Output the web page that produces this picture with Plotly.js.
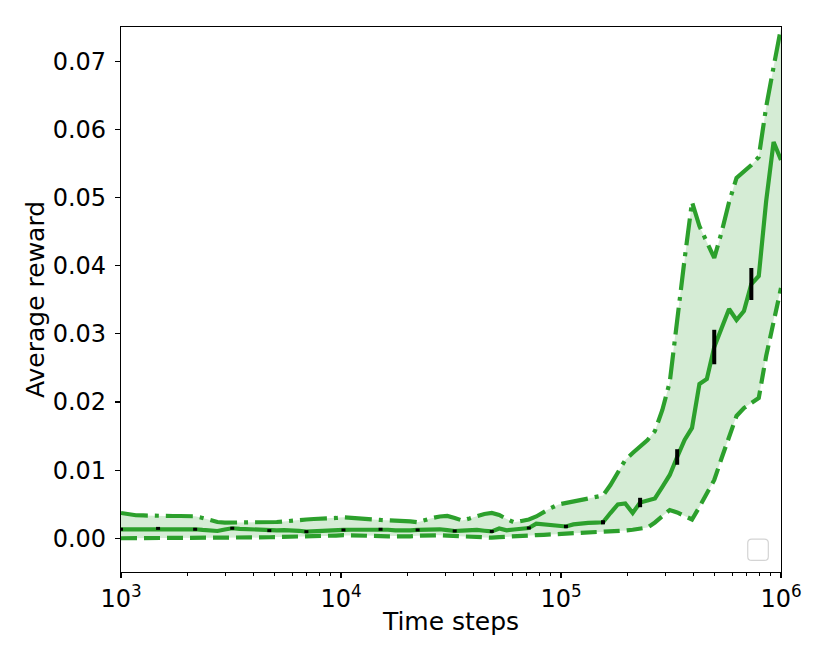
<!DOCTYPE html>
<html lang="en">
<head>
    <meta charset="UTF-8">
    <title>Average reward</title>
    <script src="https://cdn.plot.ly/plotly-3.0.1.min.js"></script>
    <style>
        body { margin: 0; background: white; }
        #plot { width: 830px; height: 664px; }
    </style>
</head>
<body>
    <div id="plot"></div>

    <script>
        // log10 of the time step for every evaluation point
        const stepsExp = [
            3.0000, 3.0337, 3.0674, 3.1011, 3.1348, 3.1685, 3.2022, 3.2360, 3.2697, 3.3034,
            3.3371, 3.3708, 3.4045, 3.4382, 3.4719, 3.5056, 3.5393, 3.5730, 3.6067, 3.6404,
            3.6742, 3.7079, 3.7416, 3.7753, 3.8090, 3.8427, 3.8764, 3.9101, 3.9438, 3.9775,
            4.0112, 4.0449, 4.0787, 4.1124, 4.1461, 4.1798, 4.2135, 4.2472, 4.2809, 4.3146,
            4.3483, 4.3820, 4.4157, 4.4494, 4.4831, 4.5169, 4.5506, 4.5843, 4.6180, 4.6517,
            4.6854, 4.7191, 4.7528, 4.7865, 4.8202, 4.8539, 4.8876, 4.9213, 4.9551, 4.9888,
            5.0225, 5.0562, 5.0899, 5.1236, 5.1573, 5.1910, 5.2247, 5.2584, 5.2921, 5.3258,
            5.3596, 5.3933, 5.4270, 5.4607, 5.4944, 5.5281, 5.5618, 5.5955, 5.6292, 5.6629,
            5.6966, 5.7303, 5.7640, 5.7978, 5.8315, 5.8652, 5.8989, 5.9326, 5.9663, 6.0000
        ];

        const upperReward = [
            0.00371, 0.00349, 0.00338, 0.00335, 0.00330, 0.00327, 0.00327, 0.00327, 0.00327, 0.00327,
            0.00323, 0.00298, 0.00269, 0.00239, 0.00229, 0.00229, 0.00229, 0.00229, 0.00229, 0.00232,
            0.00232, 0.00239, 0.00247, 0.00261, 0.00269, 0.00276, 0.00283, 0.00283, 0.00291, 0.00298,
            0.00308, 0.00298, 0.00294, 0.00283, 0.00276, 0.00269, 0.00264, 0.00261, 0.00258, 0.00249,
            0.00235, 0.00269, 0.00298, 0.00320, 0.00327, 0.00298, 0.00261, 0.00291, 0.00327, 0.00357,
            0.00371, 0.00342, 0.00283, 0.00235, 0.00254, 0.00276, 0.00320, 0.00390, 0.00445, 0.00496,
            0.00518, 0.00540, 0.00562, 0.00584, 0.00613, 0.00628, 0.00782, 0.00973, 0.01149, 0.01252,
            0.01340, 0.01443, 0.01575, 0.01883, 0.02294, 0.03233, 0.04099, 0.04935, 0.04583, 0.04348,
            0.04114, 0.04495, 0.04935, 0.05288, 0.05376, 0.05478, 0.05596, 0.06330, 0.06917, 0.07489
        ];

        const meanReward = [
            0.00132, 0.00132, 0.00134, 0.00136, 0.00139, 0.00145, 0.00144, 0.00141, 0.00141, 0.00136,
            0.00132, 0.00122, 0.00112, 0.00107, 0.00129, 0.00147, 0.00139, 0.00134, 0.00132, 0.00122,
            0.00112, 0.00116, 0.00119, 0.00122, 0.00110, 0.00097, 0.00104, 0.00114, 0.00122, 0.00122,
            0.00122, 0.00125, 0.00128, 0.00129, 0.00131, 0.00132, 0.00125, 0.00117, 0.00112, 0.00116,
            0.00122, 0.00125, 0.00129, 0.00132, 0.00119, 0.00107, 0.00113, 0.00119, 0.00122, 0.00110,
            0.00100, 0.00144, 0.00117, 0.00129, 0.00139, 0.00151, 0.00213, 0.00203, 0.00192, 0.00182,
            0.00173, 0.00203, 0.00217, 0.00225, 0.00229, 0.00235, 0.00371, 0.00496, 0.00511, 0.00371,
            0.00525, 0.00555, 0.00584, 0.00753, 0.00929, 0.01193, 0.01443, 0.01619, 0.02264, 0.02338,
            0.02807, 0.03086, 0.03365, 0.03204, 0.03336, 0.03732, 0.03849, 0.04950, 0.05816, 0.05552
        ];

        const lowerReward = [
            0.00000, 0.00000, 0.00000, 0.00000, 0.00000, 0.00000, 0.00000, 0.00000, 0.00000, 0.00000,
            0.00000, 0.00000, 0.00000, 0.00000, 0.00000, 0.00000, 0.00001, 0.00004, 0.00007, 0.00010,
            0.00015, 0.00018, 0.00019, 0.00022, 0.00025, 0.00026, 0.00029, 0.00031, 0.00034, 0.00040,
            0.00045, 0.00045, 0.00043, 0.00040, 0.00037, 0.00032, 0.00028, 0.00025, 0.00023, 0.00029,
            0.00037, 0.00044, 0.00048, 0.00045, 0.00038, 0.00031, 0.00023, 0.00019, 0.00015, 0.00010,
            0.00009, 0.00016, 0.00025, 0.00032, 0.00038, 0.00043, 0.00047, 0.00051, 0.00056, 0.00060,
            0.00063, 0.00070, 0.00078, 0.00085, 0.00090, 0.00094, 0.00098, 0.00104, 0.00114, 0.00125,
            0.00136, 0.00158, 0.00232, 0.00327, 0.00415, 0.00379, 0.00327, 0.00276, 0.00459, 0.00650,
            0.00856, 0.01178, 0.01501, 0.01795, 0.01912, 0.01986, 0.02059, 0.02675, 0.03204, 0.03674
        ];

        // error bar on the mean, drawn at every 5th evaluation point
        const errEvery = 5;
        const meanStdErr = [
            0.00022, 0.00022, 0.00022, 0.00022, 0.00022, 0.00022, 0.00022, 0.00022, 0.00022,
            0.00022, 0.00022, 0.00022, 0.00025, 0.00030, 0.00069, 0.00114, 0.00253, 0.00235
        ];

        const xTickVals = [1e3, 1e4, 1e5, 1e6];
        const xTickText = ['10<sup>3</sup>', '10<sup>4</sup>', '10<sup>5</sup>', '10<sup>6</sup>'];
        const yTickVals = [0, 0.01, 0.02, 0.03, 0.04, 0.05, 0.06, 0.07];

        const green = '#2ca02c';

        function createPlot() {
            const steps = stepsExp.map(e => Math.pow(10, e));
            const errSteps = steps.filter((_, i) => i % errEvery === 0);
            const errMean = meanReward.filter((_, i) => i % errEvery === 0);

            const minorVals = [];
            for (let d = 3; d < 6; d++) {
                for (let m = 2; m <= 9; m++) minorVals.push(m * Math.pow(10, d));
            }

            const traces = [
                {
                    x: steps, y: lowerReward, type: 'scatter', mode: 'lines',
                    line: { width: 0 }, showlegend: false, hoverinfo: 'skip'
                },
                {
                    x: steps, y: upperReward, type: 'scatter', mode: 'lines',
                    fill: 'tonexty', fillcolor: 'rgba(44,160,44,0.2)',
                    line: { width: 0 }, showlegend: false, hoverinfo: 'skip'
                },
                {
                    x: steps, y: upperReward, type: 'scatter', mode: 'lines',
                    line: { color: green, width: 4.2, dash: '27px,7px,4px,7px' },
                    showlegend: false
                },
                {
                    x: steps, y: meanReward, type: 'scatter', mode: 'lines',
                    line: { color: green, width: 4.2 },
                    showlegend: false
                },
                {
                    x: steps, y: lowerReward, type: 'scatter', mode: 'lines',
                    line: { color: green, width: 4.2, dash: '16px,7px' },
                    showlegend: false
                },
                {
                    x: errSteps, y: errMean, type: 'scatter', mode: 'markers',
                    marker: { size: 1, color: 'rgba(0,0,0,0)' },
                    error_y: {
                        type: 'data', array: meanStdErr, visible: true,
                        color: 'black', thickness: 4, width: 0
                    },
                    showlegend: false
                }
            ];

            const axisFont = { family: 'DejaVu Sans', size: 24, color: 'black' };

            const layout = {
                width: 830,
                height: 664,
                margin: { l: 121, r: 49, t: 27, b: 92 },
                paper_bgcolor: 'white',
                plot_bgcolor: 'white',
                font: { family: 'DejaVu Sans', color: 'black' },
                showlegend: false,
                xaxis: {
                    type: 'log',
                    range: [3, 6],
                    tickvals: xTickVals,
                    ticktext: xTickText,
                    tickfont: axisFont,
                    ticks: 'outside',
                    ticklen: 5,
                    tickwidth: 1.1,
                    tickcolor: 'black',
                    minor: { tickvals: minorVals, ticks: 'outside', ticklen: 3, tickwidth: 1, tickcolor: 'black' },
                    showgrid: false,
                    zeroline: false,
                    showline: true,
                    mirror: true,
                    linecolor: 'black',
                    linewidth: 1.1,
                    title: { text: 'Time steps', font: { family: 'DejaVu Sans', size: 25, color: 'black' }, standoff: 0 },
                    fixedrange: true
                },
                yaxis: {
                    range: [-0.00495, 0.07504],
                    tickvals: yTickVals,
                    tickformat: '.2f',
                    tickfont: axisFont,
                    ticks: 'outside',
                    ticklen: 5,
                    tickwidth: 1.1,
                    tickcolor: 'black',
                    ticklabelstandoff: 4,
                    showgrid: false,
                    zeroline: false,
                    showline: true,
                    mirror: true,
                    linecolor: 'black',
                    linewidth: 1.1,
                    title: { text: 'Average reward', font: { family: 'DejaVu Sans', size: 25, color: 'black' }, standoff: 0 },
                    fixedrange: true
                },
                shapes: [
                    {
                        // empty legend frame in the lower right corner
                        type: 'path', xref: 'paper', yref: 'paper',
                        path: 'M 0.9557,0.0213 L 0.9747,0.0213 Q 0.9808,0.0213 0.9808,0.0286 ' +
                              'L 0.9808,0.0532 Q 0.9808,0.0605 0.9747,0.0605 L 0.9557,0.0605 ' +
                              'Q 0.9496,0.0605 0.9496,0.0532 L 0.9496,0.0286 Q 0.9496,0.0213 0.9557,0.0213 Z',
                        line: { color: '#d4d4d4', width: 1.2 },
                        fillcolor: 'white'
                    }
                ]
            };

            const config = { displayModeBar: false, staticPlot: true };

            Plotly.newPlot('plot', traces, layout, config);
        }

        createPlot();
    </script>
</body>
</html>
